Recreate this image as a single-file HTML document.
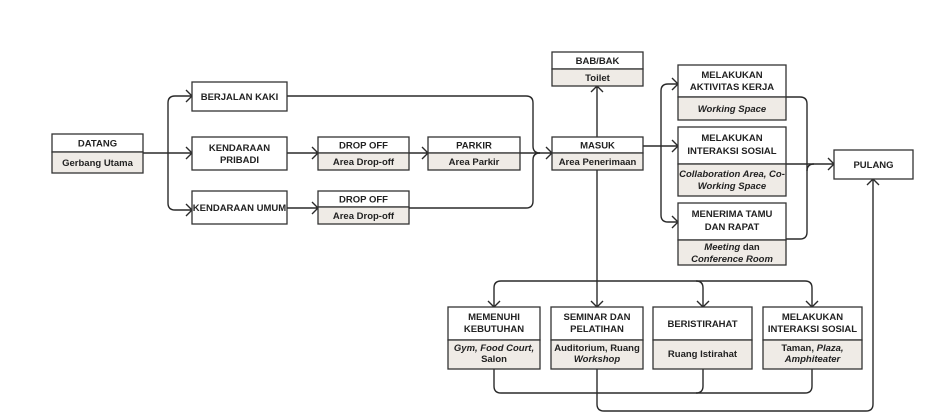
<!DOCTYPE html>
<html><head><meta charset="utf-8"><style>
html,body{margin:0;padding:0;background:#fff;}
svg{display:block;}
text{font-family:"Liberation Sans",sans-serif;font-size:9.5px;font-weight:bold;fill:#222;text-anchor:middle;}
.i{font-style:italic;}
.n{font-style:normal;}
</style></head><body>
<svg width="936" height="419" viewBox="0 0 936 419" xmlns="http://www.w3.org/2000/svg">
<g fill="none" stroke="#2a2a2a" stroke-width="1.4">
<!-- DATANG branches -->
<path d="M143 153 H168"/>
<path d="M192 96 H175 Q168 96 168 103 V203 Q168 210 175 210 H192"/>
<path d="M168 153 H192"/>
<path d="M186 90 L192 96 L186 102 M186 147 L192 153 L186 159 M186 204 L192 210 L186 216"/>
<!-- to drop off -->
<path d="M287 153 H318 M312 147 L318 153 L312 159"/>
<path d="M287 208 H318 M312 202 L318 208 L312 214"/>
<path d="M409 153 H428 M422 147 L428 153 L422 159"/>
<!-- to MASUK -->
<path d="M287 96 H526 Q533 96 533 103 V146 Q533 153 540 153"/>
<path d="M409 208 H526 Q533 208 533 201 V160 Q533 153 540 153"/>
<path d="M520 153 H552 M546 147 L552 153 L546 159"/>
<!-- toilet -->
<path d="M597 137 V86 M591 92 L597 86 L603 92"/>
<!-- right branches -->
<path d="M643 146 H661"/>
<path d="M678 84 H668 Q661 84 661 91 V215 Q661 222 668 222 H678"/>
<path d="M661 146 H678"/>
<path d="M672 78 L678 84 L672 90 M672 140 L678 146 L672 152 M672 216 L678 222 L672 228"/>
<!-- merge to PULANG -->
<path d="M786 97 H800 Q807 97 807 104 V232 Q807 239 800 239 H786"/>
<path d="M786 164 H834"/>
<path d="M807 171 Q807 164 814 164"/>
<path d="M828 158 L834 164 L828 170"/>
<!-- bottom distribution -->
<path d="M597 170 V281"/>
<path d="M494 307 V288 Q494 281 501 281 H805 Q812 281 812 288 V307"/>
<path d="M597 281 V307 M696 281 Q703 281 703 288 V307"/>
<path d="M488 301 L494 307 L500 301 M591 301 L597 307 L603 301 M697 301 L703 307 L709 301 M806 301 L812 307 L818 301"/>
<!-- bottom collection -->
<path d="M494 369 V386 Q494 393 501 393 H805 Q812 393 812 386 V369"/>
<path d="M703 369 V386 Q703 393 696 393"/>
<path d="M597 369 V404 Q597 411 604 411 H866 Q873 411 873 404 V179"/>
<path d="M867 185 L873 179 L879 185"/>
</g>
<g stroke="#333" stroke-width="1.3">
<!-- boxes: top white, bottom beige -->
<rect x="52" y="134" width="91" height="18" fill="#fff"/><rect x="52" y="152" width="91" height="21" fill="#efebe6"/>
<rect x="192" y="82" width="95" height="29" fill="#fff"/>
<rect x="192" y="137" width="95" height="33" fill="#fff"/>
<rect x="192" y="191" width="95" height="33" fill="#fff"/>
<rect x="318" y="137" width="91" height="16" fill="#fff"/><rect x="318" y="153" width="91" height="17" fill="#efebe6"/>
<rect x="318" y="191" width="91" height="16" fill="#fff"/><rect x="318" y="207" width="91" height="17" fill="#efebe6"/>
<rect x="428" y="137" width="92" height="16" fill="#fff"/><rect x="428" y="153" width="92" height="17" fill="#efebe6"/>
<rect x="552" y="137" width="91" height="16" fill="#fff"/><rect x="552" y="153" width="91" height="17" fill="#efebe6"/>
<rect x="552" y="52" width="91" height="17" fill="#fff"/><rect x="552" y="69" width="91" height="17" fill="#efebe6"/>
<rect x="678" y="65" width="108" height="32" fill="#fff"/><rect x="678" y="97" width="108" height="23" fill="#efebe6"/>
<rect x="678" y="127" width="108" height="37" fill="#fff"/><rect x="678" y="164" width="108" height="32" fill="#efebe6"/>
<rect x="678" y="203" width="108" height="37" fill="#fff"/><rect x="678" y="240" width="108" height="25" fill="#efebe6"/>
<rect x="834" y="150" width="79" height="29" fill="#fff"/>
<rect x="448" y="307" width="92" height="33" fill="#fff"/><rect x="448" y="340" width="92" height="29" fill="#efebe6"/>
<rect x="551" y="307" width="92" height="33" fill="#fff"/><rect x="551" y="340" width="92" height="29" fill="#efebe6"/>
<rect x="653" y="307" width="99" height="33" fill="#fff"/><rect x="653" y="340" width="99" height="29" fill="#efebe6"/>
<rect x="763" y="307" width="99" height="33" fill="#fff"/><rect x="763" y="340" width="99" height="29" fill="#efebe6"/>
</g>
<g>
<text x="97.5" y="146.5">DATANG</text><text x="97.5" y="166">Gerbang Utama</text>
<text x="239.5" y="100">BERJALAN KAKI</text>
<text x="239.5" y="151">KENDARAAN</text><text x="239.5" y="163">PRIBADI</text>
<text x="239.5" y="211">KENDARAAN UMUM</text>
<text x="363.5" y="148.5">DROP OFF</text><text x="363.5" y="165">Area Drop-off</text>
<text x="363.5" y="202.5">DROP OFF</text><text x="363.5" y="219">Area Drop-off</text>
<text x="474" y="148.5">PARKIR</text><text x="474" y="165">Area Parkir</text>
<text x="597.5" y="148.5">MASUK</text><text x="597.5" y="165">Area Penerimaan</text>
<text x="597.5" y="64">BAB/BAK</text><text x="597.5" y="81">Toilet</text>
<text x="732" y="78">MELAKUKAN</text><text x="732" y="90">AKTIVITAS KERJA</text>
<text x="732" y="112" class="i">Working Space</text>
<text x="732" y="141">MELAKUKAN</text><text x="732" y="154">INTERAKSI SOSIAL</text>
<text x="732" y="177" class="i">Collaboration Area, Co-</text><text x="732" y="189" class="i">Working Space</text>
<text x="732" y="217">MENERIMA TAMU</text><text x="732" y="230">DAN RAPAT</text>
<text x="732" y="250" class="i">Meeting <tspan class="n">dan</tspan></text><text x="732" y="262" class="i">Conference Room</text>
<text x="873.5" y="168">PULANG</text>
<text x="494" y="320">MEMENUHI</text><text x="494" y="332">KEBUTUHAN</text>
<text x="494" y="351" class="i">Gym, Food Court,</text><text x="494" y="362"><tspan class="n">Salon</tspan></text>
<text x="597" y="320">SEMINAR DAN</text><text x="597" y="332">PELATIHAN</text>
<text x="597" y="351">Auditorium, Ruang</text><text x="597" y="362" class="i">Workshop</text>
<text x="702.5" y="327">BERISTIRAHAT</text>
<text x="702.5" y="357">Ruang Istirahat</text>
<text x="812.5" y="320">MELAKUKAN</text><text x="812.5" y="332">INTERAKSI SOSIAL</text>
<text x="812.5" y="351">Taman, <tspan class="i">Plaza,</tspan></text><text x="812.5" y="362" class="i">Amphiteater</text>
</g>
</svg>
</body></html>
